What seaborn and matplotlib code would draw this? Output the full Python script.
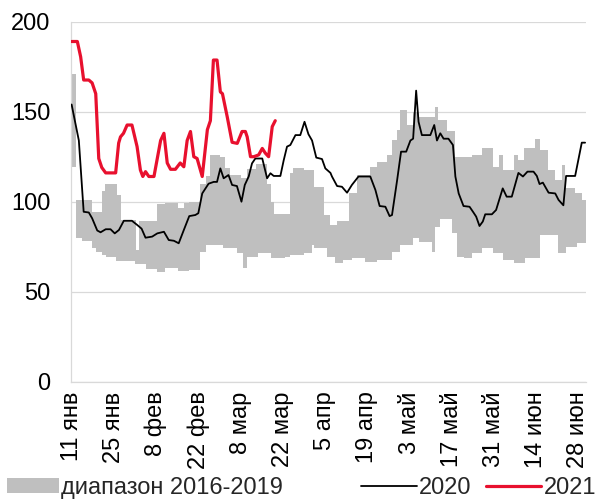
import numpy as np
import pandas as pd
import matplotlib
matplotlib.use("Agg")
import matplotlib.pyplot as plt
import seaborn as sns
from matplotlib.patches import Patch
from matplotlib.lines import Line2D

# x axis is days since 11 Jan
TICK_DAYS = [0, 14, 28, 42, 56, 70, 84, 98, 112, 126, 140, 154, 168]
TICK_LABELS = ["11 янв", "25 янв", "8 фев", "22 фев", "8 мар", "22 мар", "5 апр",
               "19 апр", "3 май", "17 май", "31 май", "14 июн", "28 июн"]
END_DAY = 170.5

# range 2016-2019, upper bound (step starts)
hi_days = [0, 1.3, 6.7, 10.0, 11.2, 15.0, 16.5, 21.4, 22.2, 28.2,
           31.0, 35.4, 37.2, 38.8, 42.7, 44.4, 46.0, 49.3, 51.0, 52.6,
           56.0, 58.2, 61.0, 64.8, 66.0, 67.0, 72.5, 73.5, 76.9, 80.2,
           83.5, 85.8, 88.0, 91.8, 94.6, 99.0, 101.2, 104.5, 106.2, 107.8,
           108.9, 111.2, 113.3, 115.0, 120.5, 121.6, 124.4, 127.2, 132.7, 136.0,
           139.8, 141.5, 143.1, 146.5, 148.1, 149.8, 153.6, 155.3, 158.0, 160.3,
           162.5, 163.6, 166.9, 169.1]
hi_vals = [171, 101, 94.5, 106, 110, 103.7, 90, 73, 89.5, 98.5,
           99, 96.3, 99, 100, 110, 114, 126, 125, 118.5, 114.8,
           113, 118, 121, 110, 100, 93, 116, 118.5, 117.6, 108.3,
           92.6, 87, 89, 104.6, 114.8, 119.4, 122, 126, 134, 140,
           151, 142.6, 150, 147, 152.8, 145.4, 139, 125, 126, 129.6,
           119.4, 126, 117.6, 126, 123, 129.6, 135, 128.7, 117.6, 112,
           120.4, 107.4, 104.6, 101]

# range 2016-2019, lower bound (step starts)
lo_days = [0, 1.3, 3.5, 6.7, 8.0, 10.2, 11.3, 14.6, 21.1, 24.5,
           28.2, 31.0, 35.4, 38.8, 42.7, 44.4, 50.3, 54.7, 56.9, 58.0,
           61.8, 66.2, 70.6, 72.5, 76.9, 79.7, 80.2, 84.8, 87.2, 89.9,
           92.8, 97.1, 101.2, 106.2, 108.9, 113.3, 115.0, 119.4, 120.5, 122.2,
           126.1, 127.7, 129.9, 132.7, 136.0, 139.8, 143.1, 146.5, 150.2, 155.3,
           161.3, 164.0, 167.5]
lo_vals = [119, 80, 78, 74, 72, 70.4, 69.4, 67, 65.5, 62.4,
           61, 63, 61.5, 62, 72, 76, 74, 71.3, 63, 69.4,
           71.3, 68.5, 69.4, 70.4, 71.7, 76, 74, 69.4, 65.8, 67.6,
           68.5, 66.7, 67.6, 72.2, 76, 79.7, 77.8, 72, 86, 90.2,
           82.4, 69.4, 68.5, 71.3, 74, 71.3, 67.6, 66, 68.5, 81.5,
           71.7, 75, 76.9]

days_2020 = [0, 2.4, 4, 5.7, 6.8, 8.5, 9.6, 11.3, 12.9, 14.3,
             15.7, 17.3, 20, 21.8, 23.2, 24.5, 26.7, 28.4, 30.6, 32.2,
             33.9, 35.5, 37.2, 39, 41, 42, 43.3, 45.4, 47.1, 48.2,
             49.3, 50.4, 52, 53.2, 54.8, 56.3, 57.4, 58.7, 59.8, 60.9,
             63.2, 64.8, 65.9, 67, 69.2, 70.3, 71.4, 72.5, 74.2, 75.8,
             77.2, 78.5, 79.7, 81.1, 83, 84.1, 85.8, 86.3, 88, 89.6,
             91.3, 92.9, 95.1, 99, 100.7, 102.1, 104, 105.4, 106.2, 107.9,
             109.2, 110.9, 112.3, 113.2, 114.2, 115, 116.1, 118.9, 120.2, 121.1,
             122.2, 123.3, 124.9, 126.4, 127.2, 128.3, 129.9, 131.9, 133.2, 134.1,
             135.2, 136.3, 137.1, 139.3, 140.7, 142.9, 144.2, 145.9, 148.1, 149.6,
             151.1, 153.1, 154.2, 155.1, 156.2, 158.1, 160.3, 161.4, 163, 163.9,
             166.9, 169.1, 170.2]
vals_2020 = [154, 134, 94.4, 94, 90.8, 84, 83, 84.7, 84.7, 82.4,
             84.3, 89.4, 89.4, 87, 85, 80, 80.6, 82.4, 83.3, 78.7,
             78.3, 76.9, 84.3, 92, 92.6, 93.6, 104.6, 110, 111, 111,
             118.5, 113, 114.8, 109.3, 108.7, 100, 109.3, 114, 121.3, 124,
             124, 113, 115.8, 114.3, 114.3, 123, 130.6, 131.5, 137, 137,
             144.4, 137.5, 134, 124.5, 123.7, 118.5, 116, 114, 108.7, 108.3,
             105, 109.3, 114, 114, 106.5, 97.6, 97.2, 92, 92.6, 112,
             127.8, 127.8, 134, 135, 161.7, 144.4, 137, 137, 142.6, 134,
             138, 135, 135, 131.5, 114, 104.6, 97.6, 97.2, 94, 91.7,
             86.5, 89, 93, 93, 95.4, 107.4, 102.8, 102.8, 116, 114,
             116.7, 116.7, 114.3, 109.8, 110.6, 105, 104.6, 101, 98, 114.3,
             114.3, 132.8, 132.8]

days_2021 = [0, 1.9, 3, 4, 5.7, 6.8, 8, 9, 10, 11.3,
             14.6, 15.6, 16.2, 17.2, 18.4, 20, 21.7, 22.8, 23.6, 24.5,
             25.6, 27.3, 29.5, 30.6, 31.7, 32.8, 34.4, 36, 37.2, 38.3,
             39.4, 40.5, 41.6, 43.3, 45, 46, 47, 48.2, 49.3, 50,
             51.6, 53.2, 54.9, 56.5, 57.6, 58.2, 59.3, 60.4, 62, 63.2,
             64.2, 65.3, 66.5, 67.5]
vals_2021 = [189, 189, 180.5, 167.6, 167.6, 166, 160, 124, 119, 116,
             116, 132.6, 136, 138, 142.6, 142.6, 130.6, 117.6, 114, 116.7,
             114, 114, 134, 138, 121.5, 118, 118, 121.5, 119.4, 134,
             139, 125, 124, 114, 140, 145, 178.7, 178.7, 161, 160,
             147, 133, 132.4, 139, 139, 136, 125, 125, 126, 129.6,
             127, 125, 141.7, 145]

GRAY = "#bfbfbf"
RED = "#e8102e"
GRID = "#d9d9d9"
FS = 17


def step_on(grid, days, vals):
    idx = np.searchsorted(days, grid, side="right") - 1
    return np.asarray(vals)[idx]


def main():
    sns.set_theme(style="white")
    plt.rcParams["font.family"] = ["Liberation Sans", "DejaVu Sans"]

    fig = plt.figure(figsize=(5.96, 5.01), dpi=100)
    ax = fig.add_axes([71 / 596, 1 - 381.7 / 501, 515 / 596, 360 / 501])

    grid = np.union1d(np.union1d(hi_days, lo_days), [END_DAY])
    hi = step_on(grid, hi_days, hi_vals)
    lo = step_on(grid, lo_days, lo_vals)
    ax.fill_between(grid, lo, hi, step="post", color=GRAY, lw=0, zorder=1)

    df20 = pd.DataFrame({"day": days_2020, "val": vals_2020})
    df21 = pd.DataFrame({"day": days_2021, "val": vals_2021})
    sns.lineplot(data=df20, x="day", y="val", color="black", lw=1.3, ax=ax, zorder=3)
    sns.lineplot(data=df21, x="day", y="val", color=RED, lw=2.3, ax=ax, zorder=4)

    ax.set_xlim(-0.2, END_DAY)
    ax.set_ylim(0, 200)
    ax.set_yticks([0, 50, 100, 150, 200])
    ax.set_xticks(TICK_DAYS)
    ax.set_xticklabels(TICK_LABELS, rotation=90)
    ax.set_xlabel("")
    ax.set_ylabel("")
    ax.tick_params(axis="y", length=0, pad=15, labelsize=FS, colors="black")
    ax.tick_params(axis="x", length=0, pad=7, labelsize=FS, colors="black")
    ax.yaxis.grid(True, color=GRID, lw=0.9)
    ax.xaxis.grid(False)
    ax.set_axisbelow(True)
    for side in ["top", "right"]:
        ax.spines[side].set_visible(False)
    for side in ["left", "bottom"]:
        ax.spines[side].set_color(GRID)
        ax.spines[side].set_linewidth(0.9)

    band = Patch(facecolor=GRAY, edgecolor="none")
    l20 = Line2D([], [], color="black", lw=1.3)
    l21 = Line2D([], [], color=RED, lw=2.3)
    fig.legend([band], ["диапазон 2016-2019"], loc="center left",
               bbox_to_anchor=(0.012, 0.026), frameon=False, fontsize=FS,
               handlelength=2.2, handleheight=0.6, handletextpad=0.1,
               borderpad=0, borderaxespad=0)
    fig.legend([l20, l21], ["2020", "2021"], loc="center right",
               bbox_to_anchor=(1.0, 0.026), ncol=2, frameon=False, fontsize=FS,
               handlelength=2.35, handletextpad=0.1, columnspacing=0.6,
               borderpad=0, borderaxespad=0)

    fig.savefig("out.png", dpi=100)


if __name__ == "__main__":
    main()
